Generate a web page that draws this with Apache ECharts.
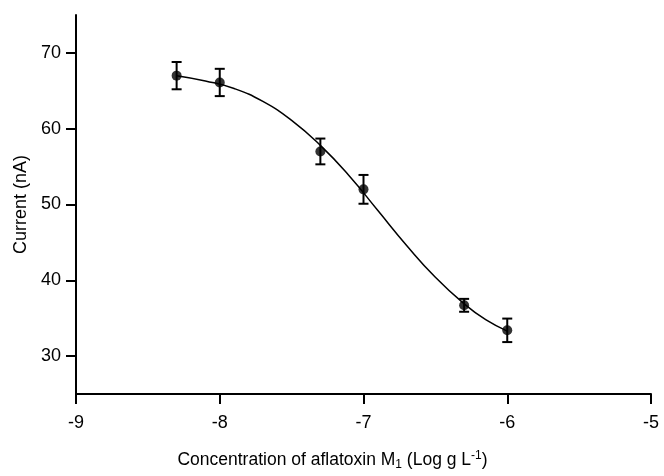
<!DOCTYPE html>
<html>
<head>
<meta charset="utf-8">
<script src="https://cdn.jsdelivr.net/npm/echarts@6/dist/echarts.min.js"></script>
<style>
  html, body { margin: 0; padding: 0; background: #fff; }
  #chart { width: 664px; height: 476px; }
</style>
</head>
<body>
<div id="chart"></div>
<script>
// measured points (log concentration, current nA, error)
var concX = [-8.3, -8, -7.3, -7, -6.3, -6];
var currentMean = [67.0, 66.1, 57.0, 52.0, 36.7, 33.4];
var currentErr = [1.8, 1.8, 1.7, 1.9, 0.85, 1.55];

// fitted sigmoid curve
var fitX = [-8.3, -8.1, -7.9, -7.7, -7.5, -7.3, -7.1, -6.9, -6.7, -6.5, -6.3, -6.15, -6.0];
var fitY = [67.0, 66.3, 65.3, 63.6, 61.1, 57.8, 53.8, 49.2, 44.6, 40.4, 36.9, 34.8, 33.3];

var yTickValues = [30, 40, 50, 60, 70];

var FONT = '"Liberation Sans", Arial, sans-serif';

var chart = echarts.init(document.getElementById('chart'));

var pointData = concX.map(function (x, i) { return [x, currentMean[i]]; });
var errData = concX.map(function (x, i) {
    return [x, currentMean[i] - currentErr[i], currentMean[i] + currentErr[i]];
});
var fitData = fitX.map(function (x, i) { return [x, fitY[i]]; });

var option = {
    animation: false,
    backgroundColor: '#fff',
    grid: { left: 76, right: 13, top: 15, bottom: 81 },
    xAxis: {
        type: 'value',
        min: -9,
        max: -5,
        interval: 1,
        name: 'Concentration of aflatoxin M{sub|1} (Log g L{sup|-1})',
        nameLocation: 'middle',
        nameGap: 56,
        nameTextStyle: {
            fontFamily: FONT,
            fontSize: 17.5,
            color: '#000',
            padding: [0, 62, 0, 0],
            rich: {
                sub: { fontFamily: FONT, fontSize: 12, color: '#000', verticalAlign: 'bottom', padding: [9, 0, 0, 0] },
                sup: { fontFamily: FONT, fontSize: 12, color: '#000', verticalAlign: 'top', padding: [0, 0, 8, 0] }
            }
        },
        axisLine: { lineStyle: { color: '#000', width: 2 } },
        axisTick: { length: 10, lineStyle: { color: '#000', width: 2 } },
        axisLabel: { fontFamily: FONT, fontSize: 18, color: '#000', margin: 20 },
        splitLine: { show: false }
    },
    yAxis: {
        type: 'value',
        min: 25,
        max: 75,
        name: 'Current (nA)',
        nameLocation: 'middle',
        nameGap: 45,
        nameTextStyle: { fontFamily: FONT, fontSize: 18, color: '#000' },
        axisLine: { show: true, lineStyle: { color: '#000', width: 2 } },
        axisTick: { show: true, length: 10, customValues: yTickValues, lineStyle: { color: '#000', width: 2 } },
        axisLabel: { fontFamily: FONT, fontSize: 18, color: '#000', margin: 15, customValues: yTickValues },
        splitLine: { show: false }
    },
    series: [
        {
            name: 'Fit',
            type: 'line',
            data: fitData,
            smooth: 0.5,
            showSymbol: false,
            lineStyle: { color: '#000', width: 1.5 },
            z: 1
        },
        {
            name: 'Error',
            type: 'custom',
            data: errData,
            renderItem: function (params, api) {
                var x = api.value(0);
                var top = api.coord([x, api.value(2)]);
                var bot = api.coord([x, api.value(1)]);
                var hw = 5;
                var st = { stroke: '#000', lineWidth: 2 };
                return {
                    type: 'group',
                    children: [
                        { type: 'line', shape: { x1: top[0], y1: top[1], x2: bot[0], y2: bot[1] }, style: st },
                        { type: 'line', shape: { x1: top[0] - hw, y1: top[1], x2: top[0] + hw, y2: top[1] }, style: st },
                        { type: 'line', shape: { x1: bot[0] - hw, y1: bot[1], x2: bot[0] + hw, y2: bot[1] }, style: st }
                    ]
                };
            },
            z: 2
        },
        {
            name: 'Current',
            type: 'scatter',
            data: pointData,
            symbol: 'circle',
            symbolSize: 10,
            itemStyle: { color: '#000' },
            z: 3
        }
    ]
};

chart.setOption(option);
window.addEventListener('resize', function () { chart.resize(); });
</script>
</body>
</html>
